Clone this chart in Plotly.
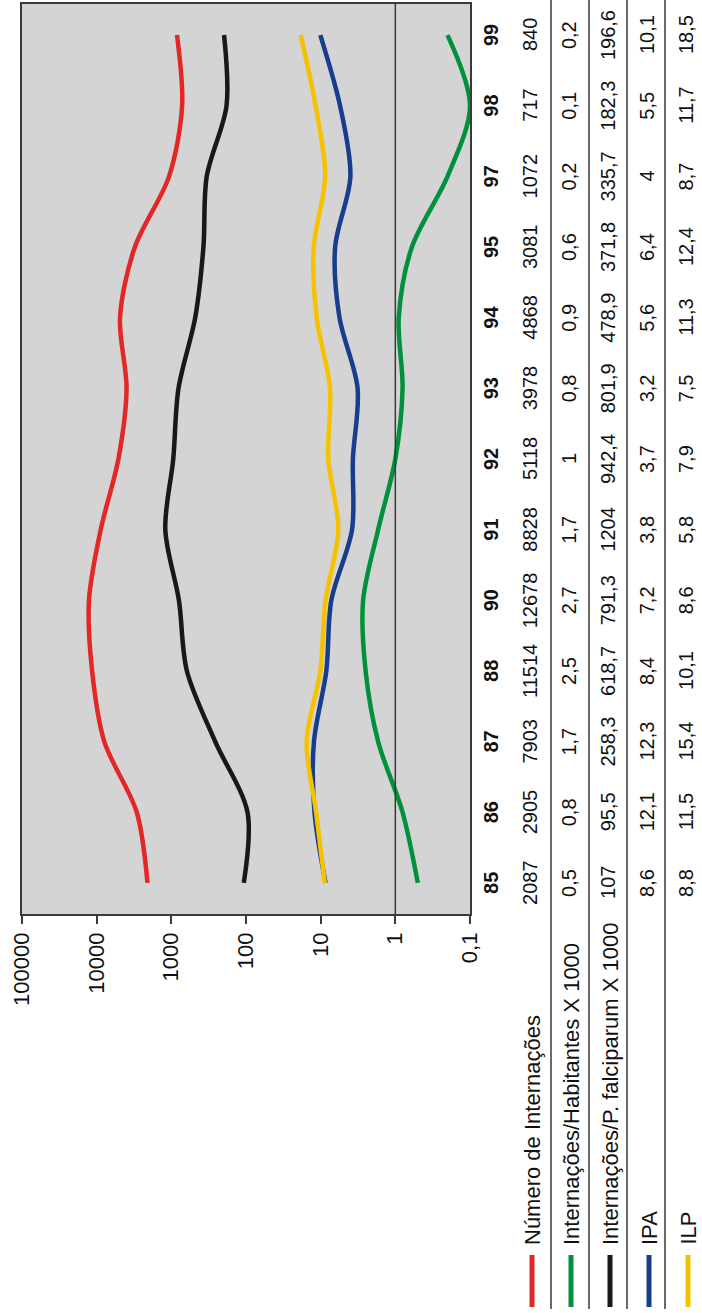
import plotly.graph_objects as go

years = ["85", "86", "87", "88", "90", "91", "92", "93", "94", "95", "97", "98", "99"]
internacoes = [2087, 2905, 7903, 11514, 12678, 8828, 5118, 3978, 4868, 3081, 1072, 717, 840]
int_hab = [0.5, 0.8, 1.7, 2.5, 2.7, 1.7, 1, 0.8, 0.9, 0.6, 0.2, 0.1, 0.2]
int_pfalc = [107, 95.5, 258.3, 618.7, 791.3, 1204, 942.4, 801.9, 478.9, 371.8, 335.7, 182.3, 196.6]
ipa = [8.6, 12.1, 12.3, 8.4, 7.2, 3.8, 3.7, 3.2, 5.6, 6.4, 4, 5.5, 10.1]
ilp = [8.8, 11.5, 15.4, 10.1, 8.6, 5.8, 7.9, 7.5, 11.3, 12.4, 8.7, 11.7, 18.5]

series_names = ["Número de Internações", "Internações/Habitantes X 1000",
                "Internações/P. falciparum X 1000", "IPA", "ILP"]
series_values = [internacoes, int_hab, int_pfalc, ipa, ilp]
series_colors = ["#e32726", "#00913a", "#1c1714", "#163e8c", "#f6c200"]

tick_vals = [100000, 10000, 1000, 100, 10, 1, 0.1]
tick_text = ["100000", "10000", "1000", "100", "10", "1", "0,1"]

W, H = 702, 1313
FONT = "Liberation Sans, Arial, sans-serif"
Y_RANGE = [-0.44, 12.44]


def px_x(p):
    return p / W


def px_y(p):
    return 1 - p / H


def fmt(v):
    return f"{v:g}".replace(".", ",")


fig = go.Figure()

# category-axis line crossing at value 1 (Excel default for log axis)
fig.add_trace(go.Scatter(x=[1, 1], y=[0, 1], xaxis="x", yaxis="y2", mode="lines",
                         line=dict(color="#3a3a3a", width=1.5), hoverinfo="skip",
                         showlegend=False))

for name, vals, col in zip(series_names, series_values, series_colors):
    fig.add_trace(go.Scatter(x=vals, y=years, mode="lines", name=name,
                             line=dict(color=col, width=4.5, shape="spline", smoothing=0.9),
                             showlegend=False))

annotations = []
# year labels (table header row) - positioned on a linear twin of the category axis
for i, yv in enumerate(years):
    annotations.append(dict(x=px_x(491), xref="paper", y=i, yref="y3", text=f"<b>{yv}</b>",
                            showarrow=False, textangle=-90, xanchor="center", yanchor="middle",
                            font=dict(family=FONT, size=20, color="#111")))

row_x = [530, 569, 608, 647, 686]
for rx, vals in zip(row_x, series_values):
    for i, v in enumerate(vals):
        annotations.append(dict(x=px_x(rx), xref="paper", y=i, yref="y3", text=fmt(v),
                                showarrow=False, textangle=-90, xanchor="center",
                                yanchor="middle",
                                font=dict(family=FONT, size=20, color="#111")))

# legend labels in the table rows
shapes = []
for rx, name, col in zip(row_x, series_names, series_colors):
    annotations.append(dict(x=px_x(rx + 2), xref="paper", y=px_y(1247), yref="paper",
                            text=name, showarrow=False, textangle=-90, xanchor="center",
                            yanchor="bottom", font=dict(family=FONT, size=22, color="#111")))
    shapes.append(dict(type="line", xref="paper", yref="paper", x0=px_x(rx + 2), x1=px_x(rx + 2),
                       y0=px_y(1255), y1=px_y(1307), line=dict(color=col, width=5)))

# table row separators
for lx in [551, 589, 627, 665]:
    shapes.append(dict(type="line", xref="paper", yref="paper", x0=px_x(lx), x1=px_x(lx),
                       y0=px_y(1309), y1=1, line=dict(color="#3a3a3a", width=1.5)))

ydom = [px_y(914), px_y(4)]
fig.update_layout(
    width=W, height=H,
    margin=dict(l=0, r=0, t=0, b=0),
    paper_bgcolor="white",
    plot_bgcolor="#d4d4d4",
    font=dict(family=FONT, size=20, color="#111"),
    xaxis=dict(type="log", range=[5, -1], domain=[px_x(22), px_x(470)],
               tickvals=tick_vals, ticktext=tick_text, tickangle=-90,
               ticks="outside", ticklen=8, tickwidth=1.5, tickcolor="#3a3a3a",
               showline=True, linecolor="#3a3a3a", linewidth=1.5, mirror=True,
               showgrid=False, zeroline=False, automargin=False,
               tickfont=dict(family=FONT, size=22, color="#111")),
    yaxis=dict(type="category", categoryorder="array", categoryarray=years,
               range=Y_RANGE, domain=ydom,
               showticklabels=False, ticks="", showgrid=False, zeroline=False,
               showline=True, linecolor="#3a3a3a", linewidth=1.5, mirror=True,
               automargin=False),
    yaxis2=dict(overlaying="y", range=[0, 1], visible=False, domain=ydom),
    yaxis3=dict(overlaying="y", type="linear", range=Y_RANGE, visible=False, domain=ydom),
    annotations=annotations,
    shapes=shapes,
    showlegend=False,
)

fig.write_html("out.html", config={"displayModeBar": False},
               post_script="document.body.style.margin='0';document.body.style.overflow='hidden';")
